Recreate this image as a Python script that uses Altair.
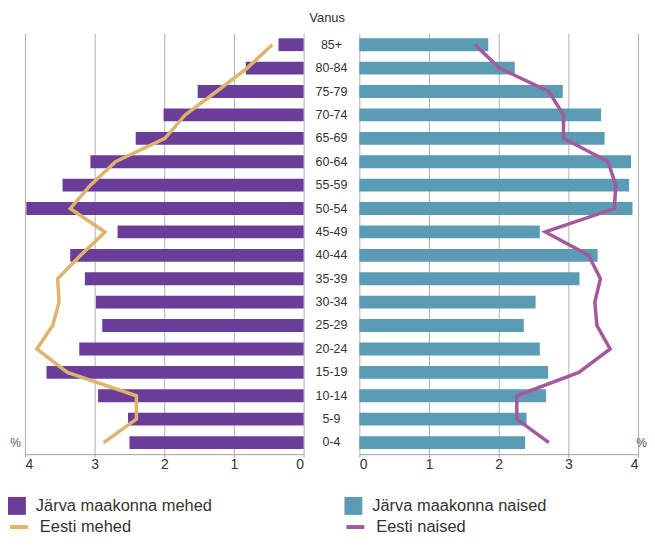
import altair as alt
import pandas as pd

ages = ["0-4", "5-9", "10-14", "15-19", "20-24", "25-29", "30-34", "35-39", "40-44",
        "45-49", "50-54", "55-59", "60-64", "65-69", "70-74", "75-79", "80-84", "85+"]
jarva_mehed = [2.50, 2.52, 2.95, 3.69, 3.22, 2.89, 2.98, 3.14, 3.35,
               2.67, 3.98, 3.46, 3.06, 2.41, 2.01, 1.52, 0.83, 0.36]
jarva_naised = [2.38, 2.40, 2.68, 2.71, 2.59, 2.36, 2.53, 3.16, 3.42,
                2.59, 3.92, 3.87, 3.90, 3.52, 3.47, 2.92, 2.23, 1.85]
eesti_mehed = [2.87, 2.40, 2.40, 3.39, 3.83, 3.60, 3.51, 3.53, 3.20,
               2.85, 3.35, 3.06, 2.70, 1.99, 1.70, 1.25, 0.81, 0.45]
eesti_naised = [2.72, 2.26, 2.26, 3.15, 3.60, 3.41, 3.38, 3.46, 3.29,
                2.67, 3.66, 3.68, 3.57, 2.93, 2.93, 2.72, 2.01, 1.66]

bar_names = ["Järva maakonna mehed", "Järva maakonna naised"]
line_names = ["Eesti mehed", "Eesti naised"]
ticks = [0, 1, 2, 3, 4]

PURPLE = "#6a3d98"
TEAL = "#5a9bb6"
TAN = "#dfb36c"
PINK = "#a5589a"

df = pd.DataFrame({
    "age": ages,
    "idx": list(range(len(ages))),
    "jm": jarva_mehed,
    "jn": jarva_naised,
    "em": eesti_mehed,
    "en": eesti_naised,
    "bm": bar_names[0],
    "bn": bar_names[1],
    "lm": line_names[0],
    "ln": line_names[1],
})

order_desc = ages[::-1]
yscale = alt.Scale(paddingInner=0.45, paddingOuter=0.22)

fill_scale = alt.Scale(domain=bar_names, range=[PURPLE, TEAL])
stroke_scale = alt.Scale(domain=line_names, range=[TAN, PINK])

fill_legend = alt.Legend(
    title=None, orient="none", legendX=-17, legendY=466, direction="horizontal",
    columns=2, symbolType="square", symbolSize=324, labelFontSize=16.5,
    labelOffset=10, columnPadding=132, symbolStrokeWidth=0, labelColor="#333333",
    labelLimit=400,
)
stroke_legend = alt.Legend(
    title=None, orient="none", legendX=-17, legendY=485, direction="horizontal",
    columns=2, symbolType="stroke", symbolSize=324, symbolStrokeWidth=4,
    labelFontSize=16.5, labelOffset=10, columnPadding=208, labelColor="#333333",
    labelLimit=400,
)

W = 280
H = 423


def side(val, line, bname, lname, reverse, title_x):
    axis = alt.Axis(values=ticks, title="%", titleX=title_x, titleY=-12,
                    titleFontSize=12, titleFontWeight="normal", titleColor="#555555",
                    titleAlign="center", titleBaseline="middle")
    x_scale = alt.Scale(domain=[0, 4], reverse=reverse, nice=False)
    bars = alt.Chart(df).mark_bar().encode(
        y=alt.Y("age:N", sort=order_desc, axis=None, scale=yscale),
        x=alt.X(f"{val}:Q", scale=x_scale, axis=axis),
        fill=alt.Fill(f"{bname}:N", scale=fill_scale, legend=fill_legend),
    )
    ln = alt.Chart(df).mark_line(strokeWidth=3.5).encode(
        y=alt.Y("age:N", sort=order_desc, axis=None, scale=yscale),
        x=alt.X(f"{line}:Q", scale=x_scale, axis=axis),
        stroke=alt.Stroke(f"{lname}:N", scale=stroke_scale, legend=stroke_legend),
        order=alt.Order("idx:Q"),
    )
    return alt.layer(bars, ln).properties(width=W, height=H)


left = side("jm", "em", "bm", "lm", True, -10)
right = side("jn", "en", "bn", "ln", False, W + 3)

middle = alt.Chart(df).mark_text(fontSize=12.5, color="#333333").encode(
    y=alt.Y("age:N", sort=order_desc, axis=None, scale=yscale),
    text="age:N",
).properties(width=54, height=H)

chart = alt.hconcat(left, middle, right, spacing=0).properties(
    title=alt.TitleParams("Vanus", fontSize=13, fontWeight="normal", color="#333333",
                          anchor="middle", offset=8),
    padding={"left": 0, "top": 3, "right": 0, "bottom": 0},
).configure(
    font="Liberation Sans",
).configure_view(
    stroke=None,
).configure_axis(
    grid=True, gridColor="#b0b0b0", gridWidth=1,
    domainColor="#a0a0a0", tickColor="#a0a0a0", tickSize=3,
    labelFontSize=14, labelColor="#333333", labelPadding=0,
).configure_legend(
    labelFont="Liberation Sans",
)

chart.save("out.html", embed_options={"renderer": "svg", "actions": False})
